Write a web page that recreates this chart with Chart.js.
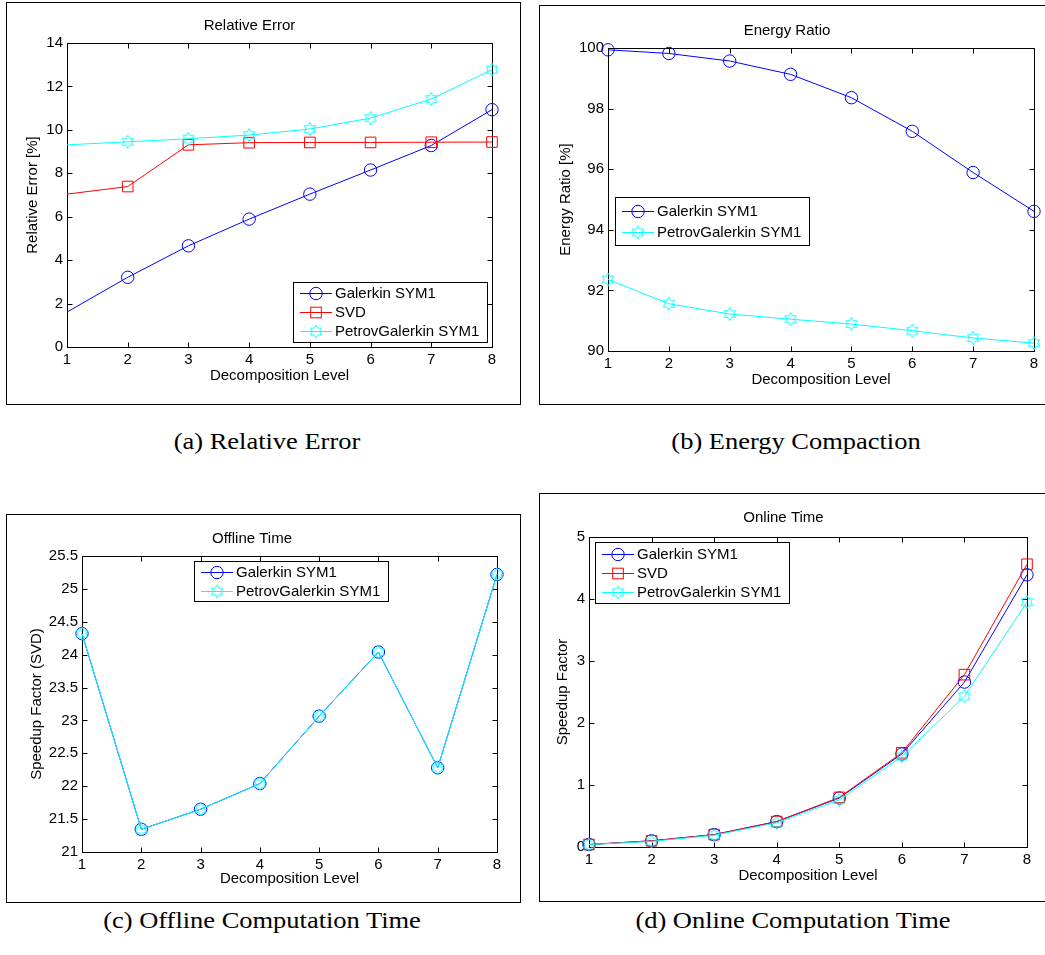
<!DOCTYPE html>
<html>
<head>
<meta charset="utf-8">
<title>Decomposition level comparison</title>
<script src="https://cdn.jsdelivr.net/npm/chart.js@4.4.1/dist/chart.umd.min.js"></script>
<style>
    body { margin: 0; background: #fff; width: 1045px; height: 955px; overflow: hidden; position: relative; }
    .panel { position: absolute; border: 1px solid #000; background: #fff; }
    .panel canvas { display: block; }
    .caption { position: absolute; width: 400px; text-align: center; white-space: nowrap; color: #000;
               font-family: "Liberation Serif", "Times New Roman", serif; font-size: 23px; line-height: 23px;
               transform: scaleX(1.15); }
</style>
</head>
<body>

<div class="panel" style="left:6px; top:2px; width:513px; height:401px;"><canvas id="chartA" width="513" height="401"></canvas></div>
<div class="panel" style="left:539px; top:5px; width:520px; height:398px;"><canvas id="chartB" width="520" height="398"></canvas></div>
<div class="panel" style="left:6px; top:514px; width:513px; height:387px;"><canvas id="chartC" width="513" height="387"></canvas></div>
<div class="panel" style="left:539px; top:493px; width:520px; height:407px;"><canvas id="chartD" width="520" height="407"></canvas></div>

<div class="caption" style="left:67px; top:430px;">(a) Relative Error</div>
<div class="caption" style="left:596px; top:430px;">(b) Energy Compaction</div>
<div class="caption" style="left:62px; top:909px;">(c) Offline Computation Time</div>
<div class="caption" style="left:593px; top:909px;">(d) Online Computation Time</div>

<script>
// decomposition levels (x axis)
var levels = [1, 2, 3, 4, 5, 6, 7, 8];

// (a) relative error [%]
var relErrGalerkin = [1.61, 3.21, 4.66, 5.89, 7.04, 8.15, 9.28, 10.93];
var relErrSvd      = [7.04, 7.39, 9.31, 9.41, 9.42, 9.42, 9.43, 9.44];
var relErrPetrov   = [9.31, 9.45, 9.59, 9.76, 10.04, 10.54, 11.42, 12.77];

// (b) energy ratio [%]
var energyGalerkin = [99.94, 99.82, 99.57, 99.13, 98.36, 97.25, 95.89, 94.61];
var energyPetrov   = [92.36, 91.56, 91.22, 91.05, 90.89, 90.67, 90.43, 90.26];

// (c) offline speedup factor (SVD)
var offlineGalerkin = [24.32, 21.345, 21.65, 22.04, 23.065, 24.04, 22.28, 25.22];
var offlinePetrov   = [24.32, 21.345, 21.65, 22.04, 23.065, 24.04, 22.28, 25.22];

// (d) online speedup factor
var onlineGalerkin = [0.04, 0.10, 0.20, 0.41, 0.79, 1.50, 2.66, 4.39];
var onlineSvd      = [0.04, 0.10, 0.20, 0.41, 0.80, 1.52, 2.78, 4.56];
var onlinePetrov   = [0.04, 0.09, 0.19, 0.39, 0.76, 1.46, 2.43, 3.95];

var fontFamily = '"Liberation Sans", Arial, Helvetica, sans-serif';
var font15 = { family: fontFamily, size: 15, weight: 'normal' };

function makeHexagram(color) {
    var cv = document.createElement('canvas');
    cv.width = 16; cv.height = 16;
    var g = cv.getContext('2d');
    g.strokeStyle = color;
    g.lineWidth = 1;
    g.beginPath();
    for (var k = 0; k < 12; k++) {
        var a = -Math.PI / 2 + k * Math.PI / 6;
        var r = (k % 2 === 0) ? 6.5 : 6.5 / Math.sqrt(3);
        var px = 8 + r * Math.cos(a), py = 8 + r * Math.sin(a);
        if (k === 0) g.moveTo(px, py); else g.lineTo(px, py);
    }
    g.closePath();
    g.stroke();
    return cv;
}

var hexagram = makeHexagram('#00ffff');

var styles = {
    galerkin: { label: 'Galerkin SYM1', color: '#0000ff', marker: 'circle', radius: 6.2 },
    svd:      { label: 'SVD', color: '#ff0000', marker: 'rect', radius: 7.5 },
    petrov:   { label: 'PetrovGalerkin SYM1', color: '#00ffff', marker: hexagram, radius: 6 }
};

var legendSpecs = {};

// box + inward ticks on all four sides, like a matlab axes
var axesBox = {
    id: 'axesBox',
    beforeDatasetsDraw: function (chart) {
        var ctx = chart.ctx, a = chart.chartArea;
        var l = Math.round(a.left) + 0.5, r = Math.round(a.right) + 0.5;
        var t = Math.round(a.top) + 0.5, b = Math.round(a.bottom) + 0.5;
        ctx.save();
        ctx.strokeStyle = '#000';
        ctx.lineWidth = 1;
        ctx.beginPath();
        chart.scales.x.ticks.forEach(function (tk) {
            var px = Math.round(chart.scales.x.getPixelForValue(tk.value)) + 0.5;
            ctx.moveTo(px, b); ctx.lineTo(px, b - 5);
            ctx.moveTo(px, t); ctx.lineTo(px, t + 5);
        });
        chart.scales.y.ticks.forEach(function (tk) {
            var py = Math.round(chart.scales.y.getPixelForValue(tk.value)) + 0.5;
            ctx.moveTo(l, py); ctx.lineTo(l + 5, py);
            ctx.moveTo(r, py); ctx.lineTo(r - 5, py);
        });
        ctx.stroke();
        ctx.strokeRect(l, t, r - l, b - t);
        ctx.restore();
    }
};

function drawMarker(ctx, st, x, y) {
    ctx.strokeStyle = st.color;
    ctx.lineWidth = 1;
    if (st.marker === 'circle') {
        ctx.beginPath();
        ctx.arc(x, y, st.radius, 0, Math.PI * 2);
        ctx.stroke();
    } else if (st.marker === 'rect') {
        var h = st.radius * Math.SQRT1_2;
        ctx.strokeRect(x - h, y - h, 2 * h, 2 * h);
    } else {
        ctx.drawImage(st.marker, x - 8, y - 8);
    }
}

var matlabLegend = {
    id: 'matlabLegend',
    afterDraw: function (chart) {
        var spec = legendSpecs[chart.canvas.id];
        if (!spec) return;
        var ctx = chart.ctx;
        ctx.save();
        ctx.font = '15px ' + fontFamily;
        var maxW = 0;
        spec.items.forEach(function (st) { maxW = Math.max(maxW, ctx.measureText(st.label).width); });
        var w = Math.round(42 + maxW + 8);
        var x0 = spec.x + 0.5, y0 = spec.y + 0.5;
        ctx.fillStyle = '#fff';
        ctx.fillRect(x0, y0, w, spec.h);
        ctx.strokeStyle = '#000';
        ctx.lineWidth = 1;
        ctx.strokeRect(x0, y0, w, spec.h);
        var n = spec.items.length;
        var first = spec.y + (spec.h - spec.gap * (n - 1)) / 2;
        spec.items.forEach(function (st, i) {
            var cy = Math.round(first + i * spec.gap) + 0.5;
            ctx.strokeStyle = st.color;
            ctx.beginPath();
            ctx.moveTo(spec.x + 7, cy);
            ctx.lineTo(spec.x + 39, cy);
            ctx.stroke();
            drawMarker(ctx, st, spec.x + 23, cy);
            ctx.fillStyle = '#000';
            ctx.textAlign = 'left';
            ctx.textBaseline = 'middle';
            ctx.fillText(st.label, spec.x + 42, cy);
        });
        ctx.restore();
    }
};

function plainTick(value) {
    return String(Math.round(value * 100) / 100);
}

function makeDataset(st, values, hideFirst, order) {
    return {
        label: st.label,
        data: levels.map(function (lv, i) { return { x: lv, y: values[i] }; }),
        borderColor: st.color,
        borderWidth: 1,
        backgroundColor: 'rgba(0,0,0,0)',
        fill: false,
        tension: 0,
        pointStyle: st.marker,
        pointRadius: levels.map(function (lv, i) { return (hideFirst && i === 0) ? 0 : st.radius; }),
        pointBorderColor: st.color,
        pointBackgroundColor: 'rgba(0,0,0,0)',
        pointBorderWidth: 1,
        clip: false,
        order: order
    };
}

function buildChart(id, c) {
    var el = document.getElementById(id);
    var W = el.width, H = el.height;
    legendSpecs[id] = c.legend;

    var datasets = c.series.map(function (s, i) {
        return makeDataset(s[0], s[1], c.hideFirst, c.series.length - i);
    });

    return new Chart(el, {
        type: 'line',
        data: { datasets: datasets },
        options: {
            responsive: false,
            animation: false,
            events: [],
            layout: { padding: { left: 0, top: 0, right: W - c.plot.right, bottom: H - c.plot.bottom - c.xAxisH } },
            plugins: {
                legend: { display: false },
                tooltip: { enabled: false },
                title: {
                    display: true, text: c.title, color: '#000', font: font15,
                    padding: { top: c.titleY - 9, bottom: c.plot.top - c.titleY - 9 }
                }
            },
            scales: {
                x: {
                    type: 'linear', min: 1, max: 8,
                    afterFit: function (s) { s.height = c.xAxisH; },
                    ticks: { stepSize: 1, padding: 4, color: '#000', font: font15, callback: plainTick },
                    grid: { display: false, drawTicks: false },
                    border: { display: false },
                    title: {
                        display: true, text: 'Decomposition Level', color: '#000', font: font15,
                        padding: { top: 0, bottom: c.plot.bottom + c.xAxisH - 9 - c.xTitleY }
                    }
                },
                y: {
                    type: 'linear', min: c.yMin, max: c.yMax,
                    afterFit: function (s) { s.width = c.plot.left; },
                    ticks: { stepSize: c.yStep, padding: 4, color: '#000', font: font15, callback: plainTick },
                    grid: { display: false, drawTicks: false },
                    border: { display: false },
                    title: {
                        display: true, text: c.yTitle, color: '#000', font: font15,
                        padding: { top: c.yTitleX - 9, bottom: 0 }
                    }
                }
            }
        },
        plugins: [axesBox, matlabLegend]
    });
}

buildChart('chartA', {
    title: 'Relative Error', yTitle: 'Relative Error [%]',
    yMin: 0, yMax: 14, yStep: 2, hideFirst: true,
    plot: { left: 60, right: 485, top: 40, bottom: 344 }, xAxisH: 40,
    titleY: 23, yTitleX: 26, xTitleY: 373,
    series: [[styles.galerkin, relErrGalerkin], [styles.svd, relErrSvd], [styles.petrov, relErrPetrov]],
    legend: { x: 286, y: 279, h: 60, gap: 19, items: [styles.galerkin, styles.svd, styles.petrov] }
});

buildChart('chartB', {
    title: 'Energy Ratio', yTitle: 'Energy Ratio [%]',
    yMin: 90, yMax: 100, yStep: 2, hideFirst: false,
    plot: { left: 68, right: 494, top: 42, bottom: 345 }, xAxisH: 40,
    titleY: 24.5, yTitleX: 26, xTitleY: 374,
    series: [[styles.galerkin, energyGalerkin], [styles.petrov, energyPetrov]],
    legend: { x: 75, y: 191, h: 48, gap: 21, items: [styles.galerkin, styles.petrov] }
});

buildChart('chartC', {
    title: 'Offline Time', yTitle: 'Speedup Factor (SVD)',
    yMin: 21, yMax: 25.5, yStep: 0.5, hideFirst: false,
    plot: { left: 75, right: 490, top: 41, bottom: 337 }, xAxisH: 36,
    titleY: 24, yTitleX: 30, xTitleY: 364,
    series: [[styles.galerkin, offlineGalerkin], [styles.petrov, offlinePetrov]],
    legend: { x: 187, y: 46, h: 40, gap: 19, items: [styles.galerkin, styles.petrov] }
});

buildChart('chartD', {
    title: 'Online Time', yTitle: 'Speedup Factor',
    yMin: 0, yMax: 5, yStep: 1, hideFirst: false,
    plot: { left: 49, right: 487, top: 43, bottom: 353 }, xAxisH: 40,
    titleY: 23.5, yTitleX: 23, xTitleY: 382,
    series: [[styles.galerkin, onlineGalerkin], [styles.svd, onlineSvd], [styles.petrov, onlinePetrov]],
    legend: { x: 55, y: 48, h: 61, gap: 19, items: [styles.galerkin, styles.svd, styles.petrov] }
});
</script>
</body>
</html>
